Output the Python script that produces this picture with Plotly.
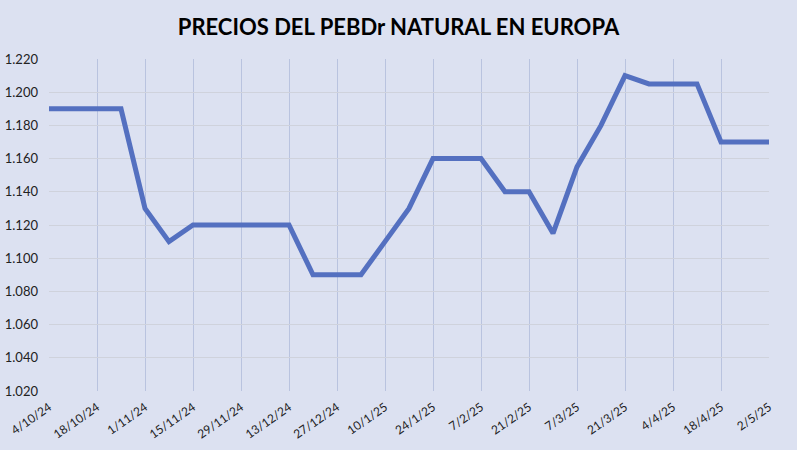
import plotly.graph_objects as go

# Weekly prices (€/t)
dates = [
    "2024-10-04", "2024-10-11", "2024-10-18", "2024-10-25", "2024-11-01",
    "2024-11-08", "2024-11-15", "2024-11-22", "2024-11-29", "2024-12-06",
    "2024-12-13", "2024-12-20", "2024-12-27", "2025-01-03", "2025-01-10",
    "2025-01-17", "2025-01-24", "2025-01-31", "2025-02-07", "2025-02-14",
    "2025-02-21", "2025-02-28", "2025-03-07", "2025-03-14", "2025-03-21",
    "2025-03-28", "2025-04-04", "2025-04-11", "2025-04-18", "2025-04-25",
    "2025-05-02",
]
prices = [
    1190, 1190, 1190, 1190, 1130,
    1110, 1120, 1120, 1120, 1120,
    1120, 1090, 1090, 1090, 1110,
    1130, 1160, 1160, 1160, 1140,
    1140, 1115, 1155, 1180, 1210,
    1205, 1205, 1205, 1170, 1170,
    1170,
]

bg = "#dce1f1"

fig = go.Figure()
fig.add_trace(go.Scatter(
    x=dates, y=prices, mode="lines",
    line=dict(color="#5470c0", width=5),
    showlegend=False,
))

fig.update_layout(
    width=797, height=450,
    paper_bgcolor=bg, plot_bgcolor=bg,
    margin=dict(l=49, r=28, t=59, b=59),
    separators=",.",
    title=dict(text="<b>PRECIOS DEL PEBDr NATURAL EN EUROPA</b>",
               x=0.5, xanchor="center", y=0.94, yanchor="middle",
               font=dict(family="Lato", size=22, color="black")),
    font=dict(family="Lato", size=12, color="#222222"),
    xaxis=dict(
        type="date",
        range=[dates[0], dates[-1]],
        tick0=dates[0], dtick=14 * 86400000,
        tickformat="%-d/%-m/%y",
        tickangle=-35,
        ticklabelstandoff=6,
        showgrid=True, gridcolor="#b9c3df", gridwidth=1,
        zeroline=False, showline=False,
        ticks="", automargin=False,
    ),
    yaxis=dict(
        range=[1020, 1220],
        dtick=20,
        tickformat=",d",
        tickfont=dict(size=13),
        ticklabelstandoff=10,
        showgrid=True, gridcolor="#cfd2dc", gridwidth=1,
        zeroline=False, showline=False,
        ticks="", ticklen=0, automargin=False,
    ),
)

# drop the page's default body margin so the figure sits at the window corner
fig.write_html("out.html", config={"displayModeBar": False},
               post_script="document.body.style.margin = '0';")
